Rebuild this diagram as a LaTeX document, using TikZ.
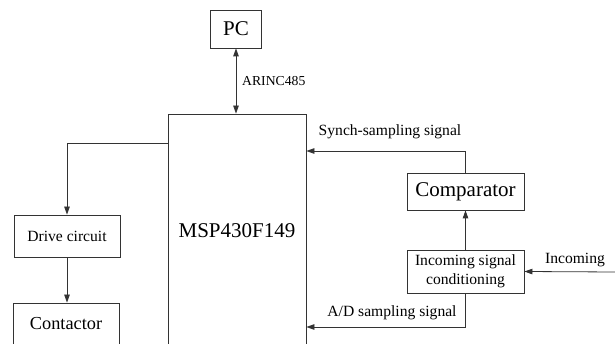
\documentclass[tikz,border=0pt]{standalone}
\usepackage{fontspec}
\setmainfont{Liberation Serif}
\usetikzlibrary{arrows.meta, calc}

\begin{document}
\begin{tikzpicture}[x=1pt, y=-1pt,
	box/.style={draw=black!80, line width=0.8pt, inner sep=0pt, align=center},
	big/.style={font=\fontsize{21}{24}\selectfont},
	mid/.style={font=\fontsize{15.6}{19}\selectfont},
	sig/.style={-{Triangle[length=8pt, width=5.5pt]}, draw=black!80, line width=0.8pt}]
	\useasboundingbox[fill=white] (0,0) rectangle (615,344);
	\clip (0,0) rectangle (615,344);
	% blocks
	\node[box, big, minimum width=51pt, minimum height=38pt] (pc) at (236,29) {PC};
	\node[box, big, minimum width=138pt, minimum height=234pt] (msp) at (237,231) {MSP430F149};
	\node[box, mid, minimum width=106pt, minimum height=42pt] (drive) at (67,236) {Drive circuit};
	\node[box, font=\fontsize{18.3}{22}\selectfont, minimum width=106pt, minimum height=42pt] (contactor) at (66,324) {Contactor};
	\node[box, big, minimum width=117pt, minimum height=37pt] (comp) at (465.5,191.5) {Comparator};
	\node[box, mid, minimum width=117pt, minimum height=43pt, font=\fontsize{15.6}{18.5}\selectfont] (cond) at (465.5,271.5) {Incoming signal\\conditioning};
	\coordinate (in) at (615,272);
	% links
	\draw[sig, {Triangle[length=8pt, width=5.5pt]}-{Triangle[length=8pt, width=5.5pt]}] (pc.south) -- (pc.south |- msp.north);
	\draw[sig] ($(msp.north west)+(0,30)$) -| (drive.north);
	\draw[sig] (drive.south) -- (drive.south |- contactor.north);
	\draw[sig] (comp.north) |- (msp.east |- 0,151);
	\draw[sig] (cond.north) -- (comp.south);
	\draw[sig] (cond.south) |- (msp.east |- 0,327);
	\draw[sig] (in) -- (cond.east);
	% labels
	\node[right, inner sep=0pt, font=\fontsize{13.7}{16}\selectfont] (arinc) at (242,81) {ARINC485};
	\node[mid] (synch) at (390,132) {Synch-sampling signal};
	\node[mid] (ad) at (392,313) {A/D sampling signal};
	\node[mid] (incoming) at (575,260) {Incoming};
\end{tikzpicture}
\end{document}
